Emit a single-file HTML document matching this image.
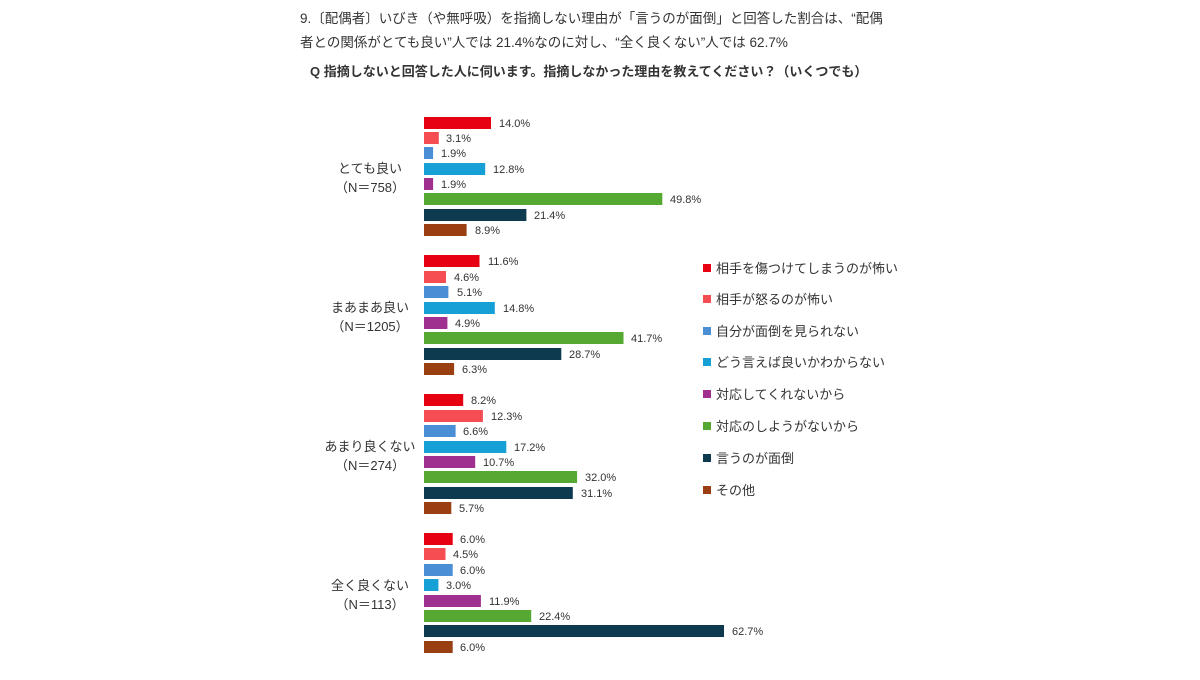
<!DOCTYPE html>
<html><head><meta charset="utf-8"><style>
body{margin:0;background:#fff;}
svg text{font-family:"Liberation Sans","Noto Sans CJK JP",sans-serif;fill:#333;}
</style></head><body>
<svg width="1200" height="675" xmlns="http://www.w3.org/2000/svg">
<text x="300" y="23" font-size="13.5">9.〔配偶者〕いびき（や無呼吸）を指摘しない理由が「言うのが面倒」と回答した割合は、“配偶</text>
<text x="300" y="47" font-size="13.5">者との関係がとても良い”人では 21.4%なのに対し、“全く良くない”人では 62.7%</text>
<text x="310" y="76" font-size="13" font-weight="bold" fill="#222">Q 指摘しないと回答した人に伺います。指摘しなかった理由を教えてください？（いくつでも）</text>

<g font-size="13" text-anchor="middle">
<text x="370" y="173">とても良い</text><text x="370" y="192">（N＝758）</text>
<text x="370" y="312">まあまあ良い</text><text x="370" y="331">（N＝1205）</text>
<text x="370" y="451">あまり良くない</text><text x="370" y="470">（N＝274）</text>
<text x="370" y="590">全く良くない</text><text x="370" y="609">（N＝113）</text>
</g>

<g font-size="11">
<rect x="424" y="117" width="67" height="12" fill="#e60012"/><text x="499" y="127">14.0%</text>
<rect x="424" y="132" width="14.8" height="12" fill="#f54d52"/><text x="446" y="142">3.1%</text>
<rect x="424" y="147" width="9.1" height="12" fill="#4a8fd6"/><text x="441" y="157">1.9%</text>
<rect x="424" y="163" width="61.2" height="12" fill="#17a0d6"/><text x="493" y="173">12.8%</text>
<rect x="424" y="178" width="9.1" height="12" fill="#a0308f"/><text x="441" y="188">1.9%</text>
<rect x="424" y="193" width="238.3" height="12" fill="#55a832"/><text x="670" y="203">49.8%</text>
<rect x="424" y="209" width="102.4" height="12" fill="#0d3a4e"/><text x="534" y="219">21.4%</text>
<rect x="424" y="224" width="42.6" height="12" fill="#9a3f12"/><text x="475" y="234">8.9%</text>
<rect x="424" y="255" width="55.5" height="12" fill="#e60012"/><text x="488" y="265">11.6%</text>
<rect x="424" y="271" width="22" height="12" fill="#f54d52"/><text x="454" y="281">4.6%</text>
<rect x="424" y="286" width="24.4" height="12" fill="#4a8fd6"/><text x="457" y="296">5.1%</text>
<rect x="424" y="302" width="70.8" height="12" fill="#17a0d6"/><text x="503" y="312">14.8%</text>
<rect x="424" y="317" width="23.4" height="12" fill="#a0308f"/><text x="455" y="327">4.9%</text>
<rect x="424" y="332" width="199.5" height="12" fill="#55a832"/><text x="631" y="342">41.7%</text>
<rect x="424" y="348" width="137.3" height="12" fill="#0d3a4e"/><text x="569" y="358">28.7%</text>
<rect x="424" y="363" width="30.1" height="12" fill="#9a3f12"/><text x="462" y="373">6.3%</text>
<rect x="424" y="394" width="39.2" height="12" fill="#e60012"/><text x="471" y="404">8.2%</text>
<rect x="424" y="410" width="58.9" height="12" fill="#f54d52"/><text x="491" y="420">12.3%</text>
<rect x="424" y="425" width="31.6" height="12" fill="#4a8fd6"/><text x="463" y="435">6.6%</text>
<rect x="424" y="441" width="82.3" height="12" fill="#17a0d6"/><text x="514" y="451">17.2%</text>
<rect x="424" y="456" width="51.2" height="12" fill="#a0308f"/><text x="483" y="466">10.7%</text>
<rect x="424" y="471" width="153.1" height="12" fill="#55a832"/><text x="585" y="481">32.0%</text>
<rect x="424" y="487" width="148.8" height="12" fill="#0d3a4e"/><text x="581" y="497">31.1%</text>
<rect x="424" y="502" width="27.3" height="12" fill="#9a3f12"/><text x="459" y="512">5.7%</text>
<rect x="424" y="533" width="28.7" height="12" fill="#e60012"/><text x="460" y="543">6.0%</text>
<rect x="424" y="548" width="21.5" height="12" fill="#f54d52"/><text x="453" y="558">4.5%</text>
<rect x="424" y="564" width="28.7" height="12" fill="#4a8fd6"/><text x="460" y="574">6.0%</text>
<rect x="424" y="579" width="14.4" height="12" fill="#17a0d6"/><text x="446" y="589">3.0%</text>
<rect x="424" y="595" width="56.9" height="12" fill="#a0308f"/><text x="489" y="605">11.9%</text>
<rect x="424" y="610" width="107.2" height="12" fill="#55a832"/><text x="539" y="620">22.4%</text>
<rect x="424" y="625" width="300" height="12" fill="#0d3a4e"/><text x="732" y="635">62.7%</text>
<rect x="424" y="641" width="28.7" height="12" fill="#9a3f12"/><text x="460" y="651">6.0%</text>
</g>

<g font-size="13">
<rect x="703" y="264" width="8" height="8" fill="#e60012"/><text x="716" y="273">相手を傷つけてしまうのが怖い</text>
<rect x="703" y="295" width="8" height="8" fill="#f54d52"/><text x="716" y="304">相手が怒るのが怖い</text>
<rect x="703" y="327" width="8" height="8" fill="#4a8fd6"/><text x="716" y="336">自分が面倒を見られない</text>
<rect x="703" y="358" width="8" height="8" fill="#17a0d6"/><text x="716" y="367">どう言えば良いかわからない</text>
<rect x="703" y="390" width="8" height="8" fill="#a0308f"/><text x="716" y="399">対応してくれないから</text>
<rect x="703" y="422" width="8" height="8" fill="#55a832"/><text x="716" y="431">対応のしようがないから</text>
<rect x="703" y="454" width="8" height="8" fill="#0d3a4e"/><text x="716" y="463">言うのが面倒</text>
<rect x="703" y="486" width="8" height="8" fill="#9a3f12"/><text x="716" y="495">その他</text>
</g>
</svg>
</body></html>
